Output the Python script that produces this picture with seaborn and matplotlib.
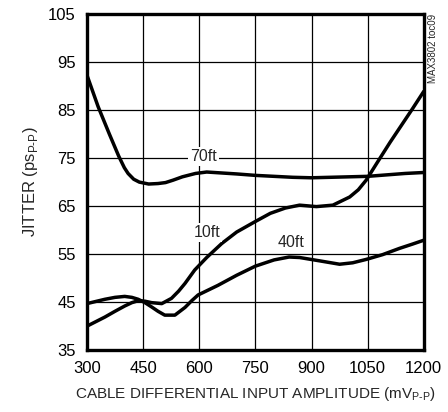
import pandas as pd
import matplotlib
matplotlib.use("Agg")
import matplotlib.pyplot as plt
import seaborn as sns

# Data (mVp-p, ps p-p)
amp_70ft = [300, 330, 360, 385, 400, 410, 425, 440, 465, 490, 510, 530, 555,
            590, 620, 660, 700, 750, 800, 850, 900, 950, 1000, 1050, 1100,
            1150, 1200]
jit_70ft = [92.3, 85.7, 80.0, 75.4, 73.0, 71.8, 70.6, 70.0, 69.6, 69.7, 69.9,
            70.4, 71.1, 71.8, 72.1, 71.9, 71.7, 71.4, 71.2, 71.0, 70.9, 71.0,
            71.1, 71.2, 71.5, 71.8, 72.0]

amp_10ft = [300, 348, 375, 401, 420, 437, 455, 473, 500, 526, 545, 562, 588,
            620, 660, 700, 750, 790, 830, 868, 913, 957, 1002, 1025, 1046,
            1075, 1110, 1140, 1170, 1200]
jit_10ft = [40.0, 41.9, 43.1, 44.2, 44.9, 45.3, 45.2, 44.9, 44.7, 45.8, 47.3,
            48.9, 51.7, 54.3, 57.2, 59.6, 61.8, 63.5, 64.6, 65.2, 64.9, 65.2,
            66.9, 68.4, 70.4, 74.0, 78.3, 81.8, 85.3, 88.9]

amp_40ft = [300, 348, 375, 401, 420, 437, 455, 473, 490, 508, 535, 562, 580,
            597, 650, 700, 750, 800, 840, 868, 922, 975, 1010, 1046, 1090,
            1135, 1170, 1200]
jit_40ft = [44.7, 45.6, 46.0, 46.2, 46.0, 45.6, 44.9, 44.0, 43.1, 42.3, 42.3,
            43.9, 45.3, 46.5, 48.5, 50.6, 52.5, 53.8, 54.4, 54.3, 53.6, 52.9,
            53.2, 53.9, 54.9, 56.2, 57.1, 57.9]

x_ticks = [300, 450, 600, 750, 900, 1050, 1200]
y_ticks = [35, 45, 55, 65, 75, 85, 95, 105]

df = pd.concat([
    pd.DataFrame({"amp": amp_70ft, "jitter": jit_70ft, "cable": "70ft"}),
    pd.DataFrame({"amp": amp_10ft, "jitter": jit_10ft, "cable": "10ft"}),
    pd.DataFrame({"amp": amp_40ft, "jitter": jit_40ft, "cable": "40ft"}),
])

sns.set_style("white")
plt.rcParams["font.family"] = ["Liberation Sans", "DejaVu Sans"]
plt.rcParams["mathtext.fontset"] = "custom"
plt.rcParams["mathtext.rm"] = "Liberation Sans"

fig = plt.figure(figsize=(4.48, 4.12), dpi=100)
ax = fig.add_axes([0.194, 0.150, 0.752, 0.816])

sns.lineplot(
    data=df, x="amp", y="jitter", units="cable", estimator=None,
    color="black", linewidth=2.5, sort=False, ax=ax, zorder=3
)

ax.set_xlim(300, 1200)
ax.set_ylim(35, 105)
ax.set_xticks(x_ticks)
ax.set_yticks(y_ticks)
ax.grid(True, color="black", linewidth=0.9)
ax.set_axisbelow(True)
for s in ax.spines.values():
    s.set_linewidth(2.4)
    s.set_color("black")
ax.tick_params(axis="both", length=0, labelsize=12, pad=8, colors="black")

ax.set_xlabel(r"CABLE DIFFERENTIAL INPUT AMPLITUDE (mV$_{\mathregular{P\text{-}P}}$)",
              fontsize=11, labelpad=6)
ax.set_ylabel(r"JITTER (ps$_{\mathregular{P\text{-}P}}$)", fontsize=12, labelpad=6)

# curve labels
box = dict(facecolor="white", edgecolor="none", pad=1.5)
ax.text(612, 75.4, "70ft", fontsize=11.5, ha="center", va="center", bbox=box, zorder=4)
ax.text(620, 59.5, "10ft", fontsize=11.5, ha="center", va="center", bbox=box, zorder=4)
ax.text(845, 57.4, "40ft", fontsize=11.5, ha="center", va="center", bbox=box, zorder=4)

fig.text(0.967, 0.966, "MAX3802 toc09", rotation=90, fontsize=7,
         ha="center", va="top")

plt.savefig("out.png", dpi=100)
